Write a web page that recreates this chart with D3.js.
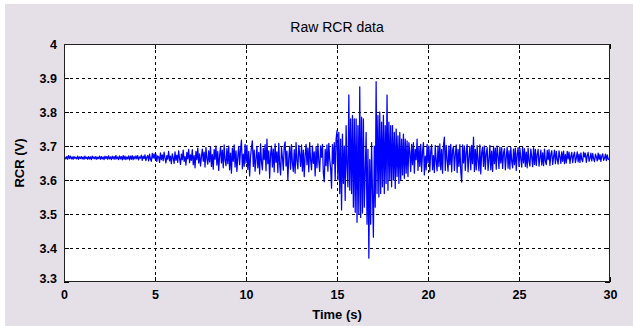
<!DOCTYPE html>
<html>
<head>
<meta charset="utf-8">
<script src="https://cdn.jsdelivr.net/npm/d3@7"></script>
<style>
  body { margin: 0; background: #fff; }
  svg { display: block; }
  text { font-family: "Liberation Sans", Arial, sans-serif; fill: #000; }
</style>
</head>
<body>
<svg id="chart"></svg>
<script>
// sampling interval of the recording, seconds
const sampleStep = 0.05;

// raw RCR voltage, one row per second (20 samples)
const rcrVolts = [
  3.658, 3.667, 3.662, 3.669, 3.661, 3.672, 3.663, 3.670, 3.662, 3.668, 3.661, 3.669, 3.663, 3.667, 3.662, 3.670, 3.661, 3.668, 3.663, 3.669, // 0
  3.662, 3.668, 3.661, 3.670, 3.663, 3.667, 3.661, 3.669, 3.662, 3.668, 3.660, 3.670, 3.663, 3.668, 3.662, 3.669, 3.661, 3.667, 3.663, 3.670, // 1
  3.661, 3.669, 3.662, 3.668, 3.660, 3.670, 3.663, 3.669, 3.661, 3.671, 3.662, 3.668, 3.660, 3.670, 3.662, 3.669, 3.661, 3.672, 3.662, 3.668, // 2
  3.660, 3.671, 3.662, 3.669, 3.659, 3.672, 3.661, 3.670, 3.660, 3.668, 3.662, 3.671, 3.659, 3.670, 3.661, 3.672, 3.660, 3.669, 3.662, 3.671, // 3
  3.662, 3.672, 3.659, 3.668, 3.664, 3.673, 3.658, 3.670, 3.663, 3.674, 3.657, 3.667, 3.672, 3.656, 3.676, 3.662, 3.655, 3.678, 3.664, 3.677, // 4
  3.662, 3.676, 3.655, 3.671, 3.668, 3.652, 3.680, 3.660, 3.674, 3.657, 3.682, 3.664, 3.650, 3.672, 3.661, 3.684, 3.656, 3.670, 3.648, 3.677, // 5
  3.665, 3.649, 3.683, 3.658, 3.673, 3.652, 3.686, 3.663, 3.646, 3.676, 3.660, 3.688, 3.655, 3.669, 3.644, 3.681, 3.662, 3.690, 3.651, 3.674, // 6
  3.658, 3.689, 3.645, 3.672, 3.636, 3.684, 3.660, 3.694, 3.650, 3.677, 3.641, 3.668, 3.691, 3.655, 3.682, 3.638, 3.696, 3.662, 3.647, 3.686, // 7
  3.653, 3.698, 3.640, 3.675, 3.632, 3.690, 3.661, 3.700, 3.644, 3.684, 3.628, 3.671, 3.697, 3.650, 3.688, 3.636, 3.703, 3.658, 3.642, 3.693, // 8
  3.648, 3.700, 3.630, 3.679, 3.620, 3.694, 3.655, 3.703, 3.638, 3.686, 3.625, 3.668, 3.699, 3.645, 3.690, 3.717, 3.633, 3.676, 3.640, 3.705, // 9
  3.650, 3.702, 3.631, 3.684, 3.612, 3.670, 3.696, 3.715, 3.640, 3.688, 3.626, 3.662, 3.699, 3.636, 3.681, 3.618, 3.706, 3.654, 3.630, 3.693, // 10
  3.660, 3.704, 3.627, 3.720, 3.648, 3.686, 3.605, 3.675, 3.700, 3.638, 3.691, 3.624, 3.706, 3.652, 3.683, 3.622, 3.708, 3.646, 3.615, 3.695, // 11
  3.667, 3.629, 3.700, 3.712, 3.641, 3.685, 3.600, 3.664, 3.699, 3.632, 3.704, 3.650, 3.625, 3.689, 3.620, 3.710, 3.657, 3.633, 3.702, 3.676, // 12
  3.640, 3.703, 3.626, 3.688, 3.610, 3.672, 3.705, 3.645, 3.694, 3.624, 3.710, 3.658, 3.630, 3.700, 3.649, 3.683, 3.612, 3.698, 3.636, 3.706, // 13
  3.655, 3.625, 3.700, 3.667, 3.705, 3.620, 3.595, 3.690, 3.642, 3.703, 3.626, 3.708, 3.660, 3.635, 3.576, 3.704, 3.648, 3.710, 3.600, 3.720, // 14
  3.745, 3.600, 3.740, 3.560, 3.720, 3.512, 3.735, 3.590, 3.700, 3.540, 3.760, 3.640, 3.580, 3.850, 3.570, 3.780, 3.560, 3.790, 3.520, 3.780, // 15
  3.505, 3.780, 3.476, 3.760, 3.500, 3.874, 3.490, 3.785, 3.503, 3.780, 3.520, 3.620, 3.740, 3.470, 3.690, 3.370, 3.660, 3.470, 3.710, 3.560, // 16
  3.432, 3.700, 3.520, 3.889, 3.560, 3.790, 3.550, 3.800, 3.560, 3.770, 3.580, 3.790, 3.560, 3.760, 3.590, 3.850, 3.570, 3.770, 3.600, 3.760, // 17
  3.580, 3.760, 3.600, 3.740, 3.575, 3.750, 3.610, 3.730, 3.590, 3.740, 3.600, 3.720, 3.615, 3.735, 3.605, 3.720, 3.620, 3.715, 3.610, 3.710, // 18
  3.680, 3.625, 3.705, 3.645, 3.710, 3.620, 3.690, 3.660, 3.720, 3.628, 3.698, 3.640, 3.705, 3.625, 3.685, 3.710, 3.615, 3.670, 3.630, 3.705, // 19
  3.650, 3.700, 3.625, 3.684, 3.704, 3.630, 3.672, 3.622, 3.702, 3.655, 3.627, 3.700, 3.640, 3.706, 3.630, 3.690, 3.620, 3.703, 3.726, 3.628, // 20
  3.702, 3.660, 3.626, 3.700, 3.645, 3.705, 3.624, 3.688, 3.699, 3.628, 3.675, 3.703, 3.622, 3.690, 3.640, 3.704, 3.625, 3.594, 3.703, 3.650, // 21
  3.700, 3.628, 3.682, 3.704, 3.624, 3.665, 3.699, 3.630, 3.702, 3.648, 3.726, 3.625, 3.690, 3.630, 3.701, 3.656, 3.627, 3.703, 3.618, 3.680, // 22
  3.697, 3.640, 3.700, 3.632, 3.678, 3.695, 3.628, 3.660, 3.702, 3.630, 3.685, 3.625, 3.699, 3.648, 3.694, 3.632, 3.700, 3.670, 3.634, 3.697, // 23
  3.650, 3.695, 3.634, 3.680, 3.692, 3.630, 3.668, 3.697, 3.635, 3.686, 3.632, 3.696, 3.655, 3.636, 3.691, 3.645, 3.694, 3.628, 3.675, 3.695, // 24
  3.640, 3.693, 3.662, 3.638, 3.696, 3.650, 3.692, 3.640, 3.682, 3.636, 3.694, 3.655, 3.641, 3.691, 3.668, 3.639, 3.695, 3.646, 3.690, 3.643, // 25
  3.675, 3.690, 3.641, 3.665, 3.688, 3.644, 3.680, 3.642, 3.691, 3.655, 3.645, 3.687, 3.660, 3.689, 3.643, 3.676, 3.686, 3.646, 3.668, 3.688, // 26
  3.648, 3.684, 3.660, 3.647, 3.686, 3.668, 3.649, 3.683, 3.655, 3.685, 3.648, 3.675, 3.650, 3.684, 3.662, 3.682, 3.649, 3.670, 3.681, 3.651, // 27
  3.672, 3.682, 3.651, 3.665, 3.683, 3.653, 3.676, 3.652, 3.680, 3.660, 3.654, 3.682, 3.668, 3.679, 3.652, 3.671, 3.681, 3.655, 3.664, 3.679, // 28
  3.656, 3.678, 3.662, 3.654, 3.676, 3.668, 3.656, 3.679, 3.660, 3.675, 3.655, 3.670, 3.677, 3.658, 3.664, 3.676, 3.657, 3.674, 3.661, 3.660, // 29
  3.668 // 30
];

const xTicks = [0, 5, 10, 15, 20, 25, 30];
const yTicks = [3.3, 3.4, 3.5, 3.6, 3.7, 3.8, 3.9, 4];

const titleText = 'Raw RCR data';
const xLabel = 'Time (s)';
const yLabel = 'RCR (V)';

const width = 633;
const height = 326;
const margin = { top: 44, right: 23, bottom: 44, left: 64 };

const svg = d3
  .select('#chart')
  .attr('width', width)
  .attr('height', height);

// figure background
svg
  .append('rect')
  .attr('x', 5)
  .attr('y', 4)
  .attr('width', width - 5)
  .attr('height', height - 4)
  .attr('fill', '#e5dfe8');

const x = d3
  .scaleLinear()
  .domain([0, 30])
  .range([margin.left, width - margin.right]);

const y = d3
  .scaleLinear()
  .domain([3.3, 4])
  .range([height - margin.bottom, margin.top]);

const plotW = x.range()[1] - x.range()[0];
const plotH = y.range()[0] - y.range()[1];

svg
  .append('rect')
  .attr('x', margin.left)
  .attr('y', margin.top)
  .attr('width', plotW)
  .attr('height', plotH)
  .attr('fill', '#fff');

// dashed grid
const grid = svg
  .append('g')
  .attr('stroke', '#000')
  .attr('stroke-width', 1)
  .attr('stroke-dasharray', '3,3')
  .attr('shape-rendering', 'crispEdges');

grid
  .selectAll('line.gx')
  .data(xTicks.slice(1, -1))
  .join('line')
  .attr('class', 'gx')
  .attr('x1', (d) => Math.round(x(d)) + 0.5)
  .attr('x2', (d) => Math.round(x(d)) + 0.5)
  .attr('y1', margin.top)
  .attr('y2', margin.top + plotH);

grid
  .selectAll('line.gy')
  .data(yTicks.slice(1, -1))
  .join('line')
  .attr('class', 'gy')
  .attr('x1', margin.left)
  .attr('x2', margin.left + plotW)
  .attr('y1', (d) => Math.round(y(d)) + 0.5)
  .attr('y2', (d) => Math.round(y(d)) + 0.5);

// signal
svg
  .append('clipPath')
  .attr('id', 'plotClip')
  .append('rect')
  .attr('x', margin.left)
  .attr('y', margin.top)
  .attr('width', plotW)
  .attr('height', plotH);

const line = d3
  .line()
  .x((d, i) => x(i * sampleStep))
  .y((d) => y(d));

svg
  .append('path')
  .datum(rcrVolts)
  .attr('clip-path', 'url(#plotClip)')
  .attr('fill', 'none')
  .attr('stroke', '#0000ff')
  .attr('stroke-width', 1.25)
  .attr('stroke-linejoin', 'round')
  .attr('d', line);

// axes, MATLAB style: inward ticks on every side
const tickLen = 5;
const xAxisB = d3.axisBottom(x).tickValues(xTicks).tickSizeInner(-tickLen).tickSizeOuter(0).tickPadding(8).tickFormat(d3.format('d'));
const xAxisT = d3.axisTop(x).tickValues(xTicks).tickSizeInner(-tickLen).tickSizeOuter(0).tickFormat('');
const yAxisL = d3.axisLeft(y).tickValues(yTicks).tickSizeInner(-tickLen).tickSizeOuter(0).tickPadding(7).tickFormat((d) => (d === 4 ? '4' : d3.format('.1f')(d)));
const yAxisR = d3.axisRight(y).tickValues(yTicks).tickSizeInner(-tickLen).tickSizeOuter(0).tickFormat('');

const styleAxis = (g) => {
  g.select('.domain').remove();
  g.selectAll('line').attr('stroke', '#000').attr('shape-rendering', 'crispEdges');
  g.selectAll('text')
    .attr('font-size', '12.5px')
    .attr('font-weight', 'bold')
    .attr('font-family', '"Liberation Sans", Arial, sans-serif');
};

svg.append('g').attr('transform', `translate(0,${margin.top + plotH})`).call(xAxisB).call(styleAxis);
svg.append('g').attr('transform', `translate(0,${margin.top})`).call(xAxisT).call(styleAxis);
svg.append('g').attr('transform', `translate(${margin.left},0)`).call(yAxisL).call(styleAxis)
  .selectAll('text')
  .attr('dy', (d) => (d === 3.3 ? '0' : '0.32em'));
svg.append('g').attr('transform', `translate(${margin.left + plotW},0)`).call(yAxisR).call(styleAxis);

// frame
svg
  .append('rect')
  .attr('x', margin.left + 0.5)
  .attr('y', margin.top + 0.5)
  .attr('width', plotW - 1)
  .attr('height', plotH - 1)
  .attr('fill', 'none')
  .attr('stroke', '#222')
  .attr('shape-rendering', 'crispEdges');

// labels
svg
  .append('text')
  .attr('x', x(15))
  .attr('y', 32)
  .attr('text-anchor', 'middle')
  .attr('font-size', '14px')
  .text(titleText);

svg
  .append('text')
  .attr('x', x(15))
  .attr('y', 319)
  .attr('text-anchor', 'middle')
  .attr('font-size', '13px')
  .attr('font-weight', 'bold')
  .text(xLabel);

svg
  .append('text')
  .attr('transform', `translate(24,${y(3.65)}) rotate(-90)`)
  .attr('text-anchor', 'middle')
  .attr('font-size', '13px')
  .attr('font-weight', 'bold')
  .text(yLabel);
</script>
</body>
</html>
